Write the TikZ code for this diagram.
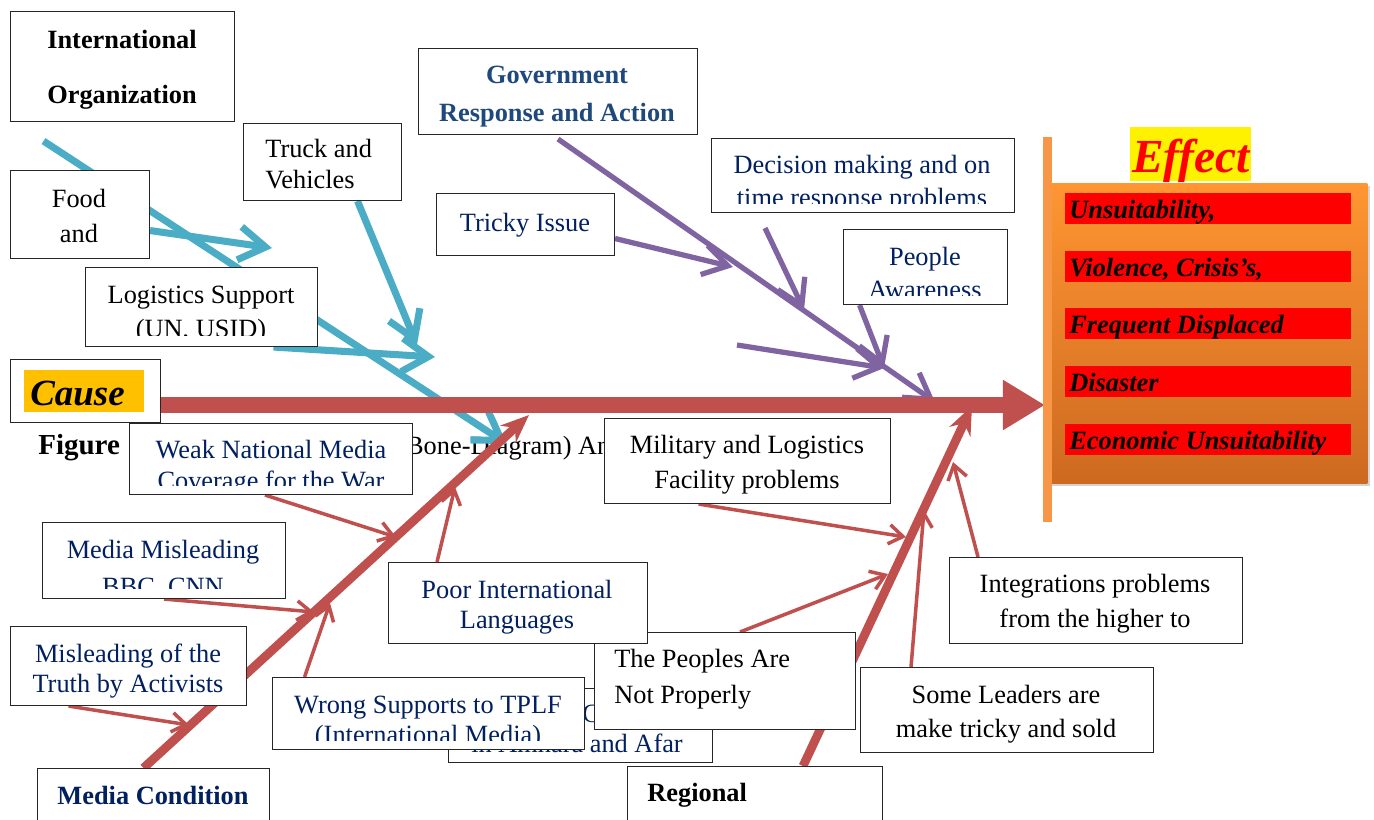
\documentclass[tikz,border=0pt]{standalone}
\usepackage{fontspec}
\setmainfont{Liberation Serif}
\usetikzlibrary{arrows.meta,shadows}
\pgfdeclarelayer{under}
\pgfdeclarelayer{bones}
\pgfsetlayers{under,bones,main}
\newdimen\pxu \pxu=0.02cm
\definecolor{boneBlue}{RGB}{75,172,198}
\definecolor{bonePurple}{RGB}{128,100,162}
\definecolor{boneRed}{RGB}{192,80,77}
\definecolor{navyText}{RGB}{0,32,96}
\definecolor{govText}{RGB}{31,73,125}
\definecolor{barOrange}{RGB}{247,150,70}
\definecolor{effectTop}{RGB}{255,150,50}
\definecolor{effectBottom}{RGB}{205,105,32}
\definecolor{causeYellow}{RGB}{255,192,0}

\begin{document}
\begin{tikzpicture}
[x=0.02cm, y=-0.02cm,
  boxDecorate/.style={draw=black!85, line width=0.6pt, fill=white, anchor=north west, inner sep=0pt},
  lineDecorate/.style={anchor=base, inner sep=0pt, font=\fontsize{15}{18}\selectfont},
  blueBone/.style={draw=boneBlue, line width=4pt, -{Straight Barb[length=15pt,width=19pt]}},
  purpleBone/.style={draw=bonePurple, line width=3pt, -{Straight Barb[length=14pt,width=17pt]}},
  redBone/.style={draw=boneRed, line width=2pt, -{Straight Barb[length=8pt,width=11pt]}},
  mainBone/.style={draw=boneRed, line width=5pt, -{Stealth[length=16pt,width=13pt]}},
  spineDecorate/.style={draw=boneRed, line width=9pt, -{Triangle[length=24pt,width=27pt]}},
  rowDecorate/.style={anchor=north west, fill=red, inner sep=0pt, minimum width=286\pxu, minimum height=31\pxu},
  rowText/.style={anchor=base west, inner sep=0pt, font=\fontsize{15}{18}\selectfont\bfseries\itshape}]
\useasboundingbox (0,0) rectangle (1374,819);

%% boxes
\foreach \nodename/\xa/\ya/\xb/\yb in {
  intOrg/10/11/234/121, food/10/170/149/258, truck/243/123/401/200,
  logistics/85/267/317/346, cause/10/359/160/422, gov/418/48/697/134,
  tricky/436/193/614/255, decision/711/138/1014/212, people/843/229/1007/304,
  weak/129/423/412/494, military/604/418/890/503, misleading/42/522/285/598,
  truth/10/626/246/705, wrong/272/677/584/749, peoples/594/632/855/729,
  poor/388/562/647/643, integ/949/557/1242/643, leaders/860/667/1153/752,
  mediaCond/37/768/269/840, regional/627/766/882/840}
{
  \node (\nodename) at (\xa,\ya) [boxDecorate, minimum width={(\xb-\xa)*\pxu},
    minimum height={(\yb-\ya)*\pxu}] {};
}

%% texts
\foreach \nodename/\x/\y/\txt in {
  foodA/79/207/Food, foodB/79/242/and,
  logisticsA/201/303/Logistics Support, logisticsB/201/337/{(UN, USID)},
  militaryA/747/453/Military and Logistics, militaryB/747/488/Facility problems,
  integA/1095/592/Integrations problems, integB/1095/627/from the higher to,
  leadersA/1006/703/Some Leaders are, leadersB/1006/737/make tricky and sold}
{
  \node (\nodename) at (\x,\y) [lineDecorate] {\txt};
}
\foreach \nodename/\x/\y/\txt in {
  truckA/265/157/Truck and, truckB/265/188/Vehicles,
  peoplesA/614/667/The Peoples Are, peoplesB/614/703/Not Properly}
{
  \node (\nodename) at (\x,\y) [lineDecorate, anchor=base west] {\txt};
}
\foreach \nodename/\x/\y/\txt in {
  trickyA/525/231/Tricky Issue,
  decisionA/862/173/Decision making and on, decisionB/862/206/time response problems,
  peopleA/925/265/People, peopleB/925/298/Awareness,
  weakA/271/458/Weak National Media, weakB/271/489/Coverage for the War,
  misleadingA/163/558/Media Misleading, misleadingB/163/595/{BBC, CNN},
  poorA/517/598/Poor International, poorB/517/628/Languages,
  truthA/128/662/Misleading of the, truthB/128/692/Truth by Activists,
  wrongA/428/713/Wrong Supports to TPLF, wrongB/428/743/(International Media)}
{
  \node (\nodename) at (\x,\y) [lineDecorate, text=navyText] {\txt};
}
\node (intOrgA) at (122,48) [lineDecorate, font=\fontsize{15}{18}\selectfont\bfseries] {International};
\node (intOrgB) at (122,103) [lineDecorate, font=\fontsize{15}{18}\selectfont\bfseries] {Organization};
\node (govA) at (557,83) [lineDecorate, text=govText, font=\fontsize{15}{18}\selectfont\bfseries] {Government};
\node (govB) at (557,121) [lineDecorate, text=govText, font=\fontsize{15}{18}\selectfont\bfseries] {Response and Action};
\node (mediaCondA) at (153,804) [lineDecorate, text=navyText, font=\fontsize{15}{18}\selectfont\bfseries] {Media Condition};
\node (regionalA) at (647,801) [lineDecorate, anchor=base west, font=\fontsize{15}{18}\selectfont\bfseries] {Regional};

%% text cut at the box bottom
\foreach \nodename/\cut in {logistics/11, decision/9, people/9, weak/9, misleading/10, wrong/9}
{
  \fill[white] ([shift={(0.4pt,0.4pt)}]\nodename.south west) rectangle ([shift={(-0.4pt,\cut\pxu)}]\nodename.south east);
}

%% cause label
\node (causeFill) at (24,370) [anchor=north west, fill=causeYellow, inner sep=0pt, minimum width=120\pxu, minimum height=42\pxu] {};
\node (causeText) at (30,405) [anchor=base west, inner sep=0pt, font=\fontsize{21}{24}\selectfont\bfseries\itshape] {Cause};

%% effect
\node (effectBox) at (1048,183) [anchor=north west, inner sep=0pt, minimum width=319\pxu, minimum height=300\pxu,
  top color=effectTop, bottom color=effectBottom,
  drop shadow={shadow xshift=3\pxu, shadow yshift=-3\pxu, opacity=0.35}] {};
\foreach \nodename/\y/\txt in {
  unsuit/193/{Unsuitability,}, violence/251/{Violence, Crisis’s,},
  displaced/308/Frequent Displaced, disaster/366/Disaster, economic/424/Economic Unsuitability}
{
  \node (\nodename) at (1065,\y) [rowDecorate] {};
  \node (\nodename Text) at (1069,\y+25) [rowText] {\txt};
}
\fill[barOrange] (1043,137) rectangle (1052,522);
\node (effectFill) at (1130,127) [anchor=north west, fill=yellow, inner sep=0pt, minimum width=121\pxu, minimum height=54\pxu] {};
\node (effect) at (1191,172) [anchor=base, inner sep=0pt, text=red, font=\fontsize{27}{30}\selectfont\bfseries\itshape] {Effect};

%% caption and the box lying under the others
\begin{pgfonlayer}{under}
\node (figCaption) at (38,454) [lineDecorate, anchor=base west, font=\fontsize{16.5}{19}\selectfont\bfseries] {Figure};
\node (figTitle) at (397,454) [lineDecorate, anchor=base west, font=\fontsize{15}{18}\selectfont] {(Bone-Diagram) An};
\node (amhara) at (448,688) [boxDecorate, minimum width=264\pxu, minimum height=74\pxu] {};
\node (amharaA) at (582,722) [lineDecorate, anchor=base west, text=navyText] {Co};
\node (amharaB) at (577,752) [lineDecorate, text=navyText] {in Amhara and Afar};
\end{pgfonlayer}

%% bones
\begin{pgfonlayer}{bones}
\foreach \nodename/\x/\y in {
  blueTip/507/444, foodTip/272/248, truckTip/417/345, logisticsTip/435/357,
  govTip/935/402, trickyTip/733/267, decisionTip/804/310, peopleTip/884/368, spare/737/345,
  mediaTip/529/415, weakTip/396/537, poorTip/455/487, misleadingTip/314/612,
  wrongTip/330/603, truthTip/189/725,
  regionalTip/972/406, militaryTip/906/537, peoplesTip/888/574, leadersTip/924/510,
  integTip/953/462, spineTip/1045/405}
{
  \coordinate (\nodename) at (\x,\y);
}
\draw[blueBone] ([xshift=-79\pxu,yshift=-19\pxu]intOrg.south) -- (blueTip);
\draw[blueBone] ([yshift=-16\pxu]food.east) -- (foodTip);
\draw[blueBone] ([xshift=35\pxu]truck.south) -- (truckTip);
\draw[blueBone] ([xshift=72\pxu]logistics.south) -- (logisticsTip);
\draw[purpleBone] ([yshift=-4\pxu]gov.south) -- (govTip);
\draw[purpleBone] ([yshift=-14\pxu]tricky.east) -- (trickyTip);
\draw[purpleBone] ([xshift=-98\pxu,yshift=-15\pxu]decision.south) -- (decisionTip);
\draw[purpleBone] ([xshift=-66\pxu]people.south) -- (peopleTip);
\draw[purpleBone] (spare) -- (peopleTip);
\draw[mainBone] ([xshift=-10\pxu]mediaCond.north) -- (mediaTip);
\draw[redBone] ([xshift=-6\pxu]weak.south) -- (weakTip);
\draw[redBone] ([xshift=-81\pxu]poor.north) -- (poorTip);
\draw[redBone] (misleading.south) -- (misleadingTip);
\draw[redBone] ([xshift=-124\pxu]wrong.north) -- (wrongTip);
\draw[redBone] ([xshift=-60\pxu]truth.south) -- (truthTip);
\draw[mainBone] ([xshift=48\pxu]regional.north) -- (regionalTip);
\draw[redBone] ([xshift=-49\pxu]military.south) -- (militaryTip);
\draw[redBone] ([xshift=15\pxu]peoples.north) -- (peoplesTip);
\draw[redBone] ([xshift=-96\pxu]leaders.north) -- (leadersTip);
\draw[redBone] ([xshift=-118\pxu]integ.north) -- (integTip);
\draw[spineDecorate] (cause.east |- spineTip) -- (spineTip);
\end{pgfonlayer}
\end{tikzpicture}
\end{document}
